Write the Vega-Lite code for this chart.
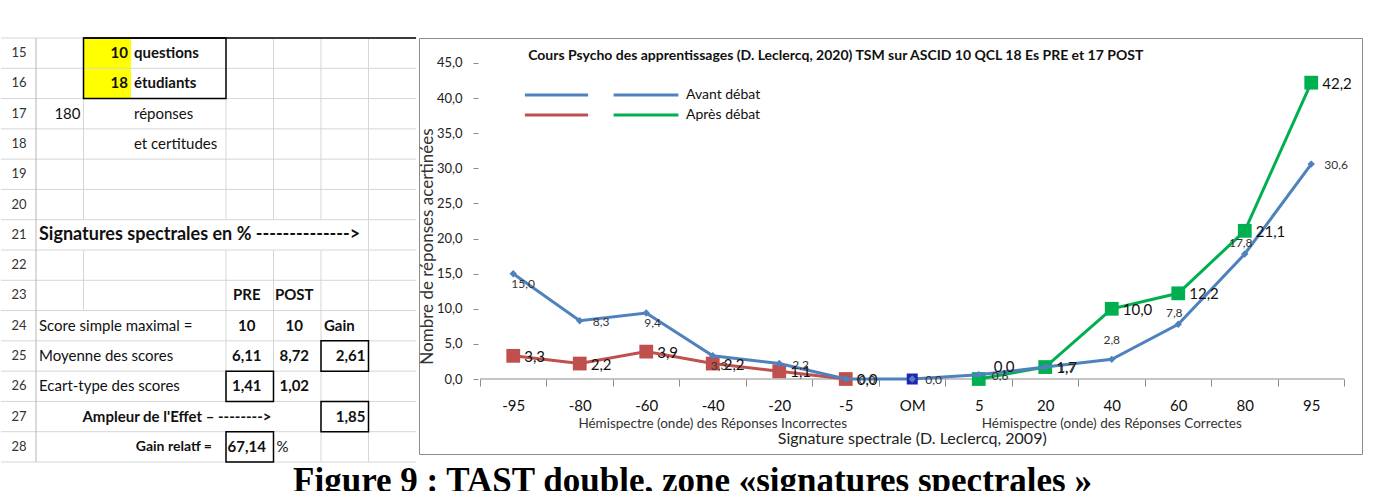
{
  "$schema": "https://vega.github.io/schema/vega-lite/v6.json",
  "background": "white",
  "padding": {"left": 0, "top": 37, "right": 0, "bottom": 0},
  "config": {
    "font": "Lato",
    "view": {"stroke": null},
    "locale": {"number": {"decimal": ",", "thousands": " ", "grouping": [3], "currency": ["", " €"]}}
  },
  "title": {"text": "Figure 9 : TAST double, zone «signatures spectrales »", "orient": "bottom", "anchor": "middle", "font": "Liberation Serif", "fontSize": 35, "fontWeight": "bold", "color": "#000", "baseline": "alphabetic", "offset": 29, "dx": 11},
  "spacing": 0,
  "datasets": {
    "pts": [
      {"cat": "-95", "k": 1, "serie": "Avant débat", "half": "I", "v": 15.0},
      {"cat": "-80", "k": 2, "serie": "Avant débat", "half": "I", "v": 8.3},
      {"cat": "-60", "k": 3, "serie": "Avant débat", "half": "I", "v": 9.4},
      {"cat": "-40", "k": 4, "serie": "Avant débat", "half": "I", "v": 3.3},
      {"cat": "-20", "k": 5, "serie": "Avant débat", "half": "I", "v": 2.2},
      {"cat": "-5", "k": 6, "serie": "Avant débat", "half": "I", "v": 0.0},
      {"cat": "OM", "k": 7, "serie": "Avant débat", "half": "M", "v": 0.0},
      {"cat": "5", "k": 8, "serie": "Avant débat", "half": "C", "v": 0.6},
      {"cat": "20", "k": 9, "serie": "Avant débat", "half": "C", "v": 1.7},
      {"cat": "40", "k": 10, "serie": "Avant débat", "half": "C", "v": 2.8},
      {"cat": "60", "k": 11, "serie": "Avant débat", "half": "C", "v": 7.8},
      {"cat": "80", "k": 12, "serie": "Avant débat", "half": "C", "v": 17.8},
      {"cat": "95", "k": 13, "serie": "Avant débat", "half": "C", "v": 30.6},
      {"cat": "-95", "k": 1, "serie": "Après débat", "half": "I", "v": 3.3},
      {"cat": "-80", "k": 2, "serie": "Après débat", "half": "I", "v": 2.2},
      {"cat": "-60", "k": 3, "serie": "Après débat", "half": "I", "v": 3.9},
      {"cat": "-40", "k": 4, "serie": "Après débat", "half": "I", "v": 2.2},
      {"cat": "-20", "k": 5, "serie": "Après débat", "half": "I", "v": 1.1},
      {"cat": "-5", "k": 6, "serie": "Après débat", "half": "I", "v": 0.0},
      {"cat": "5", "k": 8, "serie": "Après débat", "half": "C", "v": 0.0},
      {"cat": "20", "k": 9, "serie": "Après débat", "half": "C", "v": 1.7},
      {"cat": "40", "k": 10, "serie": "Après débat", "half": "C", "v": 10.0},
      {"cat": "60", "k": 11, "serie": "Après débat", "half": "C", "v": 12.2},
      {"cat": "80", "k": 12, "serie": "Après débat", "half": "C", "v": 21.1},
      {"cat": "95", "k": 13, "serie": "Après débat", "half": "C", "v": 42.2}
    ],
    "notes": [
      {"role": "title", "cat": "-5", "v": 45, "t": "Cours Psycho des apprentissages (D. Leclercq, 2020) TSM sur ASCID 10 QCL 18 Es PRE et 17 POST"},
      {"role": "hemi", "cat": "-40", "v": 0, "t": "Hémispectre (onde) des Réponses Incorrectes"},
      {"role": "hemi", "cat": "40", "v": 0, "t": "Hémispectre (onde) des Réponses Correctes"},
      {"role": "axis", "cat": "OM", "v": 0, "t": "Signature spectrale (D. Leclercq, 2009)"}
    ],
    "rows": [
      {"row": "15"}, {"row": "16"}, {"row": "17"}, {"row": "18"}, {"row": "19"}, {"row": "20"}, {"row": "21"},
      {"row": "22"}, {"row": "23"}, {"row": "24"}, {"row": "25"}, {"row": "26"}, {"row": "27"}, {"row": "28"}
    ],
    "vlines": [
      {"col": "C", "r1": "17", "r2": "20"}, {"col": "C", "r1": "22", "r2": "23"},
      {"col": "E", "r1": "17", "r2": "20"}, {"col": "E", "r1": "22", "r2": "26"},
      {"col": "F", "r1": "15", "r2": "20"}, {"col": "F", "r1": "22", "r2": "26"}, {"col": "F", "r1": "28", "r2": "28"},
      {"col": "G", "r1": "15", "r2": "20"}, {"col": "G", "r1": "22", "r2": "28"},
      {"col": "H", "r1": "15", "r2": "28"}
    ],
    "boxes": [
      {"c1": "C", "c2": "D2", "r1": "15", "r2": "16"},
      {"c1": "G", "c2": "G", "r1": "25", "r2": "25"},
      {"c1": "E", "c2": "E", "r1": "26", "r2": "26"},
      {"c1": "G", "c2": "G", "r1": "27", "r2": "27"},
      {"c1": "E", "c2": "E", "r1": "28", "r2": "28"}
    ],
    "cells": [
      {"row": "15", "col": "C", "text": "10", "kind": "nb"},
      {"row": "15", "col": "D", "text": "questions", "kind": "tb"},
      {"row": "16", "col": "C", "text": "18", "kind": "nb"},
      {"row": "16", "col": "D", "text": "étudiants", "kind": "tb"},
      {"row": "17", "col": "B", "text": "180", "kind": "n"},
      {"row": "17", "col": "D", "text": "réponses", "kind": "t"},
      {"row": "18", "col": "D", "text": "et certitudes", "kind": "t"},
      {"row": "21", "col": "B", "text": "Signatures spectrales en % -------------->", "kind": "h"},
      {"row": "23", "col": "E", "text": "PRE", "kind": "cb"},
      {"row": "23", "col": "F", "text": "POST", "kind": "cb"},
      {"row": "24", "col": "B", "text": "Score simple maximal =", "kind": "t"},
      {"row": "24", "col": "E", "text": "10", "kind": "cb"},
      {"row": "24", "col": "F", "text": "10", "kind": "cb"},
      {"row": "24", "col": "G", "text": "Gain", "kind": "tb"},
      {"row": "25", "col": "B", "text": "Moyenne des scores", "kind": "t"},
      {"row": "25", "col": "E", "text": "6,11", "kind": "cb"},
      {"row": "25", "col": "F", "text": "8,72", "kind": "cb"},
      {"row": "25", "col": "G", "text": "2,61", "kind": "nb"},
      {"row": "26", "col": "B", "text": "Ecart-type des scores", "kind": "t"},
      {"row": "26", "col": "E", "text": "1,41", "kind": "cb"},
      {"row": "26", "col": "F", "text": "1,02", "kind": "cb"},
      {"row": "27", "col": "E", "text": "Ampleur de l'Effet – -------->", "kind": "hr"},
      {"row": "27", "col": "G", "text": "1,85", "kind": "nb"},
      {"row": "28", "col": "D2", "text": "Gain relatf =", "kind": "hb"},
      {"row": "28", "col": "E", "text": "67,14", "kind": "cb"},
      {"row": "28", "col": "F", "text": "%", "kind": "t"}
    ]
  },
  "hconcat": [
    {
      "width": 415,
      "height": 424,
      "view": {"stroke": null},
      "layer": [
        {
          "data": {"values": [{"col": "C", "row": "15"}, {"col": "C", "row": "16"}]},
          "mark": {"type": "rect", "color": "#ffff00"},
          "encoding": {
            "x": {"field": "col", "type": "nominal", "axis": null, "scale": {"type": "band", "domain": ["B", "C", "D", "D2", "E", "F", "G", "H"], "paddingInner": 0, "paddingOuter": 0.3684, "align": 1}},
            "y": {"field": "row", "type": "nominal", "axis": null, "scale": {"type": "band", "domain": ["15", "16", "17", "18", "19", "20", "21", "22", "23", "24", "25", "26", "27", "28"], "paddingInner": 0, "paddingOuter": 0}}
          }
        },
        {
          "data": {"name": "rows"},
          "mark": {"type": "rule", "color": "#d6d6d6"},
          "encoding": {
            "y": {"field": "row", "type": "nominal", "axis": null, "bandPosition": 0, "scale": {"type": "band", "domain": ["15", "16", "17", "18", "19", "20", "21", "22", "23", "24", "25", "26", "27", "28"], "paddingInner": 0, "paddingOuter": 0}}
          }
        },
        {
          "data": {"values": [{"row": "28"}]},
          "mark": {"type": "rule", "color": "#d6d6d6"},
          "encoding": {
            "y": {"field": "row", "type": "nominal", "axis": null, "bandPosition": 1, "scale": {"type": "band", "domain": ["15", "16", "17", "18", "19", "20", "21", "22", "23", "24", "25", "26", "27", "28"], "paddingInner": 0, "paddingOuter": 0}}
          }
        },
        {
          "data": {"values": [{"col": "B"}]},
          "mark": {"type": "rule", "color": "#b8b8b8"},
          "encoding": {
            "x": {"field": "col", "type": "nominal", "axis": null, "bandPosition": 0, "scale": {"type": "band", "domain": ["B", "C", "D", "D2", "E", "F", "G", "H"], "paddingInner": 0, "paddingOuter": 0.3684, "align": 1}}
          }
        },
        {
          "data": {"name": "vlines"},
          "mark": {"type": "rule", "color": "#d6d6d6"},
          "encoding": {
            "x": {"field": "col", "type": "nominal", "axis": null, "bandPosition": 0, "scale": {"type": "band", "domain": ["B", "C", "D", "D2", "E", "F", "G", "H"], "paddingInner": 0, "paddingOuter": 0.3684, "align": 1}},
            "y": {"field": "r1", "type": "nominal", "axis": null, "bandPosition": 0, "scale": {"type": "band", "domain": ["15", "16", "17", "18", "19", "20", "21", "22", "23", "24", "25", "26", "27", "28"], "paddingInner": 0, "paddingOuter": 0}},
            "y2": {"field": "r2", "bandPosition": 1}
          }
        },
        {
          "data": {"name": "boxes"},
          "mark": {"type": "rect", "filled": false, "stroke": "#000", "strokeWidth": 1.5},
          "encoding": {
            "x": {"field": "c1", "type": "nominal", "axis": null, "bandPosition": 0, "scale": {"type": "band", "domain": ["B", "C", "D", "D2", "E", "F", "G", "H"], "paddingInner": 0, "paddingOuter": 0.3684, "align": 1}},
            "x2": {"field": "c2", "bandPosition": 1},
            "y": {"field": "r1", "type": "nominal", "axis": null, "bandPosition": 0, "scale": {"type": "band", "domain": ["15", "16", "17", "18", "19", "20", "21", "22", "23", "24", "25", "26", "27", "28"], "paddingInner": 0, "paddingOuter": 0}},
            "y2": {"field": "r2", "bandPosition": 1}
          }
        },
        {
          "data": {"values": [{"c1": "C", "c2": "H", "r1": "15"}]},
          "mark": {"type": "rule", "color": "#000", "strokeWidth": 1.5},
          "encoding": {
            "x": {"field": "c1", "type": "nominal", "axis": null, "bandPosition": 0, "scale": {"type": "band", "domain": ["B", "C", "D", "D2", "E", "F", "G", "H"], "paddingInner": 0, "paddingOuter": 0.3684, "align": 1}},
            "x2": {"field": "c2", "bandPosition": 1},
            "y": {"field": "r1", "type": "nominal", "axis": null, "bandPosition": 0, "scale": {"type": "band", "domain": ["15", "16", "17", "18", "19", "20", "21", "22", "23", "24", "25", "26", "27", "28"], "paddingInner": 0, "paddingOuter": 0}}
          }
        },
        {
          "data": {"name": "rows"},
          "mark": {"type": "text", "align": "center", "baseline": "middle", "dx": -17, "fontSize": 13, "color": "#333"},
          "encoding": {
            "x": {"datum": "B", "type": "nominal", "axis": null, "bandPosition": 0, "scale": {"type": "band", "domain": ["B", "C", "D", "D2", "E", "F", "G", "H"], "paddingInner": 0, "paddingOuter": 0.3684, "align": 1}},
            "y": {"field": "row", "type": "nominal", "axis": null, "scale": {"type": "band", "domain": ["15", "16", "17", "18", "19", "20", "21", "22", "23", "24", "25", "26", "27", "28"], "paddingInner": 0, "paddingOuter": 0}},
            "text": {"field": "row"}
          }
        },
        {
          "data": {"name": "cells"},
          "transform": [{"filter": "datum.kind == 't'"}],
          "mark": {"type": "text", "align": "left", "baseline": "middle", "dx": 3, "fontSize": 15, "color": "#111"},
          "encoding": {
            "x": {"field": "col", "type": "nominal", "axis": null, "bandPosition": 0, "scale": {"type": "band", "domain": ["B", "C", "D", "D2", "E", "F", "G", "H"], "paddingInner": 0, "paddingOuter": 0.3684, "align": 1}},
            "y": {"field": "row", "type": "nominal", "axis": null, "scale": {"type": "band", "domain": ["15", "16", "17", "18", "19", "20", "21", "22", "23", "24", "25", "26", "27", "28"], "paddingInner": 0, "paddingOuter": 0}},
            "text": {"field": "text"}
          }
        },
        {
          "data": {"name": "cells"},
          "transform": [{"filter": "datum.kind == 'tb'"}],
          "mark": {"type": "text", "align": "left", "baseline": "middle", "dx": 3, "fontSize": 15, "fontWeight": "bold", "color": "#111"},
          "encoding": {
            "x": {"field": "col", "type": "nominal", "axis": null, "bandPosition": 0, "scale": {"type": "band", "domain": ["B", "C", "D", "D2", "E", "F", "G", "H"], "paddingInner": 0, "paddingOuter": 0.3684, "align": 1}},
            "y": {"field": "row", "type": "nominal", "axis": null, "scale": {"type": "band", "domain": ["15", "16", "17", "18", "19", "20", "21", "22", "23", "24", "25", "26", "27", "28"], "paddingInner": 0, "paddingOuter": 0}},
            "text": {"field": "text"}
          }
        },
        {
          "data": {"name": "cells"},
          "transform": [{"filter": "datum.kind == 'h'"}],
          "mark": {"type": "text", "align": "left", "baseline": "middle", "dx": 3, "fontSize": 18, "fontWeight": "bold", "color": "#111"},
          "encoding": {
            "x": {"field": "col", "type": "nominal", "axis": null, "bandPosition": 0, "scale": {"type": "band", "domain": ["B", "C", "D", "D2", "E", "F", "G", "H"], "paddingInner": 0, "paddingOuter": 0.3684, "align": 1}},
            "y": {"field": "row", "type": "nominal", "axis": null, "scale": {"type": "band", "domain": ["15", "16", "17", "18", "19", "20", "21", "22", "23", "24", "25", "26", "27", "28"], "paddingInner": 0, "paddingOuter": 0}},
            "text": {"field": "text"}
          }
        },
        {
          "data": {"name": "cells"},
          "transform": [{"filter": "datum.kind == 'hr'"}],
          "mark": {"type": "text", "align": "right", "baseline": "middle", "dx": -2, "fontSize": 15, "fontWeight": "bold", "color": "#111"},
          "encoding": {
            "x": {"field": "col", "type": "nominal", "axis": null, "bandPosition": 1, "scale": {"type": "band", "domain": ["B", "C", "D", "D2", "E", "F", "G", "H"], "paddingInner": 0, "paddingOuter": 0.3684, "align": 1}},
            "y": {"field": "row", "type": "nominal", "axis": null, "scale": {"type": "band", "domain": ["15", "16", "17", "18", "19", "20", "21", "22", "23", "24", "25", "26", "27", "28"], "paddingInner": 0, "paddingOuter": 0}},
            "text": {"field": "text"}
          }
        },
        {
          "data": {"name": "cells"},
          "transform": [{"filter": "datum.kind == 'hb'"}],
          "mark": {"type": "text", "align": "right", "baseline": "middle", "dx": -14, "fontSize": 14, "fontWeight": "bold", "color": "#111"},
          "encoding": {
            "x": {"field": "col", "type": "nominal", "axis": null, "bandPosition": 1, "scale": {"type": "band", "domain": ["B", "C", "D", "D2", "E", "F", "G", "H"], "paddingInner": 0, "paddingOuter": 0.3684, "align": 1}},
            "y": {"field": "row", "type": "nominal", "axis": null, "scale": {"type": "band", "domain": ["15", "16", "17", "18", "19", "20", "21", "22", "23", "24", "25", "26", "27", "28"], "paddingInner": 0, "paddingOuter": 0}},
            "text": {"field": "text"}
          }
        },
        {
          "data": {"name": "cells"},
          "transform": [{"filter": "datum.kind == 'n'"}],
          "mark": {"type": "text", "align": "right", "baseline": "middle", "dx": -3, "fontSize": 15, "color": "#111"},
          "encoding": {
            "x": {"field": "col", "type": "nominal", "axis": null, "bandPosition": 1, "scale": {"type": "band", "domain": ["B", "C", "D", "D2", "E", "F", "G", "H"], "paddingInner": 0, "paddingOuter": 0.3684, "align": 1}},
            "y": {"field": "row", "type": "nominal", "axis": null, "scale": {"type": "band", "domain": ["15", "16", "17", "18", "19", "20", "21", "22", "23", "24", "25", "26", "27", "28"], "paddingInner": 0, "paddingOuter": 0}},
            "text": {"field": "text"}
          }
        },
        {
          "data": {"name": "cells"},
          "transform": [{"filter": "datum.kind == 'nb'"}],
          "mark": {"type": "text", "align": "right", "baseline": "middle", "dx": -3, "fontSize": 15, "fontWeight": "bold", "color": "#111"},
          "encoding": {
            "x": {"field": "col", "type": "nominal", "axis": null, "bandPosition": 1, "scale": {"type": "band", "domain": ["B", "C", "D", "D2", "E", "F", "G", "H"], "paddingInner": 0, "paddingOuter": 0.3684, "align": 1}},
            "y": {"field": "row", "type": "nominal", "axis": null, "scale": {"type": "band", "domain": ["15", "16", "17", "18", "19", "20", "21", "22", "23", "24", "25", "26", "27", "28"], "paddingInner": 0, "paddingOuter": 0}},
            "text": {"field": "text"}
          }
        },
        {
          "data": {"name": "cells"},
          "transform": [{"filter": "datum.kind == 'cb'"}],
          "mark": {"type": "text", "align": "center", "baseline": "middle", "dx": -3, "fontSize": 15, "fontWeight": "bold", "color": "#111"},
          "encoding": {
            "x": {"field": "col", "type": "nominal", "axis": null, "bandPosition": 0.5, "scale": {"type": "band", "domain": ["B", "C", "D", "D2", "E", "F", "G", "H"], "paddingInner": 0, "paddingOuter": 0.3684, "align": 1}},
            "y": {"field": "row", "type": "nominal", "axis": null, "scale": {"type": "band", "domain": ["15", "16", "17", "18", "19", "20", "21", "22", "23", "24", "25", "26", "27", "28"], "paddingInner": 0, "paddingOuter": 0}},
            "text": {"field": "text"}
          }
        }
      ]
    },
    {
      "width": 943,
      "height": 416,
      "view": {"stroke": "#8c8c8c", "strokeWidth": 1},
      "data": {"name": "pts"},
      "encoding": {
        "x": {
          "field": "cat", "type": "ordinal",
          "scale": {"type": "band", "domain": ["-95", "-80", "-60", "-40", "-20", "-5", "OM", "5", "20", "40", "60", "80", "95"], "paddingInner": 0, "paddingOuter": 0.5902, "align": 0.777},
          "axis": {"title": null, "orient": "bottom", "offset": -75, "domain": false, "grid": false, "tickBand": "extent", "tickSize": 7, "tickColor": "#8c8c8c", "labelFontSize": 15, "labelColor": "#111", "labelPadding": 12, "labelAngle": 0, "labelOverlap": false}
        },
        "y": {
          "field": "v", "type": "quantitative",
          "scale": {"domain": [-10.68, 48.56], "nice": false, "zero": false},
          "axis": {"title": "Nombre de réponses acertinées", "values": [0, 5, 10, 15, 20, 25, 30, 35, 40, 45], "format": ".1f", "offset": -59, "domain": false, "grid": false, "tickSize": 5, "tickColor": "#8c8c8c", "labelFontSize": 13, "labelColor": "#222", "labelPadding": 11, "titleFontSize": 17, "titleFontWeight": "normal", "titleColor": "#333", "titlePadding": 0}
        }
      },
      "resolve": {"scale": {"color": "independent"}},
      "layer": [
        {
          "data": {"values": [{"a": "-95", "b": "95", "z": 0}]},
          "mark": {"type": "rule", "color": "#8c8c8c", "strokeWidth": 1},
          "encoding": {
            "x": {"field": "a", "type": "ordinal", "bandPosition": 0},
            "x2": {"field": "b", "bandPosition": 1},
            "y": {"field": "z", "type": "quantitative"}
          }
        },
        {
          "transform": [{"filter": "datum.serie == 'Après débat' && datum.half == 'I'"}],
          "mark": {"type": "line", "strokeWidth": 3},
          "encoding": {
            "order": {"field": "k", "type": "quantitative"},
            "color": {"field": "serie", "type": "nominal", "scale": {"domain": ["Avant débat", "Après débat"], "range": ["#4f81bd", "#c0504d"]},
              "legend": {"title": null, "orient": "none", "legendX": 104, "legendY": 47, "direction": "vertical", "labelExpr": "''", "symbolType": "stroke", "symbolSize": 4000, "symbolStrokeWidth": 3, "clipHeight": 20, "rowPadding": 0, "padding": 0, "labelOffset": 0}}
          }
        },
        {
          "transform": [{"filter": "datum.serie == 'Après débat' && datum.half == 'C'"}],
          "mark": {"type": "line", "strokeWidth": 3},
          "encoding": {
            "order": {"field": "k", "type": "quantitative"},
            "color": {"field": "serie", "type": "nominal", "scale": {"domain": ["Avant débat", "Après débat"], "range": ["#4f81bd", "#00b050"]},
              "legend": {"title": null, "orient": "none", "legendX": 193, "legendY": 47, "direction": "vertical", "symbolType": "stroke", "symbolSize": 4200, "symbolStrokeWidth": 3, "clipHeight": 20, "rowPadding": 0, "padding": 0, "labelOffset": 6, "labelFontSize": 14, "labelColor": "#111", "labelFont": "Lato"}}
          }
        },
        {
          "transform": [{"filter": "datum.serie == 'Après débat' && datum.half == 'I'"}],
          "mark": {"type": "point", "shape": "square", "filled": true, "size": 190, "color": "#c0504d", "opacity": 1}
        },
        {
          "transform": [{"filter": "datum.serie == 'Après débat' && datum.half == 'C'"}],
          "mark": {"type": "point", "shape": "square", "filled": true, "size": 190, "color": "#00b050", "opacity": 1}
        },
        {
          "transform": [{"filter": "datum.serie == 'Avant débat'"}],
          "mark": {"type": "line", "strokeWidth": 3, "color": "#4f81bd"},
          "encoding": {"order": {"field": "k", "type": "quantitative"}}
        },
        {
          "transform": [{"filter": "datum.half == 'M'"}],
          "mark": {"type": "point", "shape": "square", "filled": true, "size": 121, "color": "#2323b5", "opacity": 1}
        },
        {
          "transform": [{"filter": "datum.serie == 'Avant débat'"}],
          "mark": {"type": "point", "shape": "diamond", "filled": true, "size": 55, "color": "#4f81bd", "opacity": 1}
        },
        {
          "transform": [{"filter": "datum.serie == 'Après débat' && !(datum.half == 'C' && datum.cat == '5')"}],
          "mark": {"type": "text", "align": "left", "baseline": "middle", "dx": 11, "dy": 1, "fontSize": 15, "color": "#111"},
          "encoding": {"text": {"field": "v", "type": "quantitative", "format": ".1f"}}
        },
        {
          "transform": [{"filter": "datum.serie == 'Après débat' && datum.half == 'C' && datum.cat == '5'"}],
          "mark": {"type": "text", "align": "left", "baseline": "middle", "dx": 15, "dy": -12, "fontSize": 15, "color": "#111"},
          "encoding": {"text": {"field": "v", "type": "quantitative", "format": ".1f"}}
        },
        {
          "transform": [{"filter": "datum.serie == 'Avant débat' && indexof(['-95', '-60', '-40'], datum.cat) >= 0"}],
          "mark": {"type": "text", "align": "left", "baseline": "middle", "dx": -2, "dy": 10, "fontSize": 12, "color": "#333"},
          "encoding": {"text": {"field": "v", "type": "quantitative", "format": ".1f"}}
        },
        {
          "transform": [{"filter": "datum.serie == 'Avant débat' && indexof(['-80', '-20', '-5', 'OM', '5', '20', '95'], datum.cat) >= 0"}],
          "mark": {"type": "text", "align": "left", "baseline": "middle", "dx": 13, "dy": 1, "fontSize": 12, "color": "#333"},
          "encoding": {"text": {"field": "v", "type": "quantitative", "format": ".1f"}}
        },
        {
          "transform": [{"filter": "datum.serie == 'Avant débat' && datum.cat == '40'"}],
          "mark": {"type": "text", "align": "center", "baseline": "middle", "dy": -19, "fontSize": 12, "color": "#333"},
          "encoding": {"text": {"field": "v", "type": "quantitative", "format": ".1f"}}
        },
        {
          "transform": [{"filter": "datum.serie == 'Avant débat' && (datum.cat == '60' || datum.cat == '80')"}],
          "mark": {"type": "text", "align": "center", "baseline": "middle", "dx": -4, "dy": -11, "fontSize": 12, "color": "#333"},
          "encoding": {"text": {"field": "v", "type": "quantitative", "format": ".1f"}}
        },
        {
          "data": {"name": "notes"},
          "transform": [{"filter": "datum.role == 'title'"}],
          "mark": {"type": "text", "align": "center", "baseline": "middle", "dx": -10, "dy": -7, "fontSize": 14, "fontWeight": "bold", "color": "#111"},
          "encoding": {"text": {"field": "t"}}
        },
        {
          "data": {"name": "notes"},
          "transform": [{"filter": "datum.role == 'hemi'"}],
          "mark": {"type": "text", "align": "center", "baseline": "middle", "dy": 45, "fontSize": 13.5, "color": "#333"},
          "encoding": {"text": {"field": "t"}}
        },
        {
          "data": {"name": "notes"},
          "transform": [{"filter": "datum.role == 'axis'"}],
          "mark": {"type": "text", "align": "center", "baseline": "middle", "dy": 60, "fontSize": 16, "color": "#222"},
          "encoding": {"text": {"field": "t"}}
        }
      ]
    }
  ]
}
